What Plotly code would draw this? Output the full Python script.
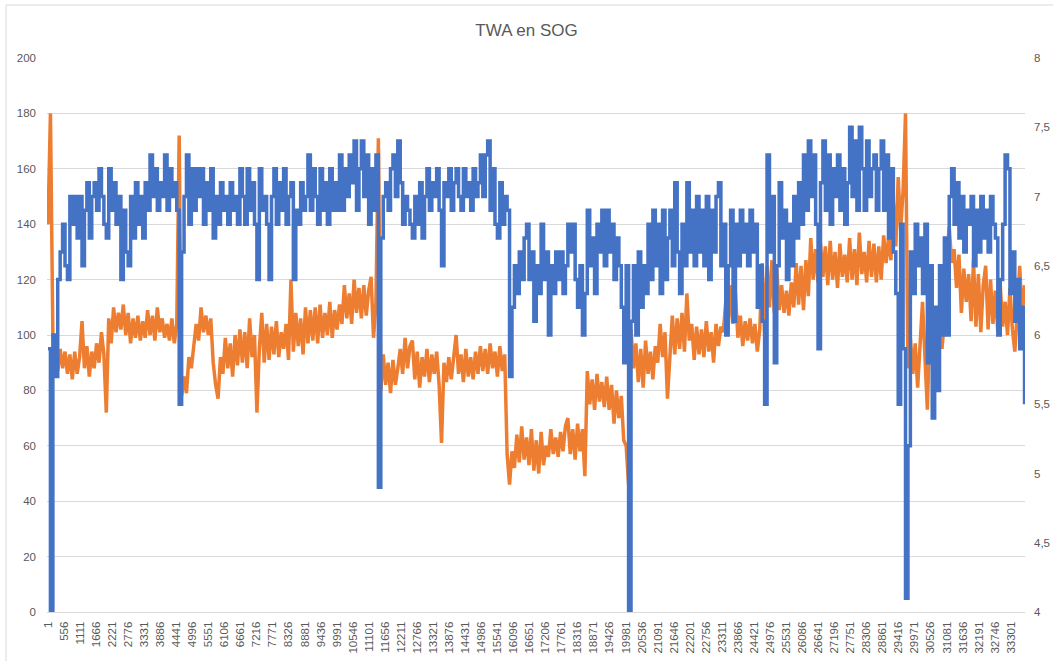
import plotly.graph_objects as go

twa = [
    95, 0, 100, 85, 120, 130, 140, 125, 120, 150,
    140, 150, 135, 150, 125, 145, 155, 135, 150, 155,
    145, 160, 150, 140, 135, 160, 145, 155, 140, 150,
    120, 145, 130, 125, 150, 135, 155, 140, 150, 135,
    155, 145, 165, 150, 160, 145, 155, 150, 165, 145,
    160, 150, 155, 145, 75, 130, 150, 165, 140, 160,
    145, 160, 150, 160, 140, 155, 145, 160, 135, 150,
    140, 155, 145, 150, 140, 155, 145, 150, 140, 160,
    150, 140, 160, 145, 155, 140, 120, 160, 145, 150,
    140, 120, 150, 160, 140, 155, 145, 160, 140, 150,
    155, 120, 145, 140, 155, 145, 150, 165, 145, 160,
    150, 140, 160, 145, 155, 140, 160, 145, 155, 145,
    165, 145, 160, 150, 165, 155, 170, 145, 160, 170,
    150, 165, 140, 160, 145, 165, 45, 135, 150, 155,
    145, 160, 165, 150, 170, 155, 140, 150, 145, 140,
    135, 150, 140, 155, 135, 150, 160, 145, 155, 150,
    160, 145, 125, 155, 150, 160, 145, 155, 160, 150,
    145, 160, 150, 155, 145, 160, 150, 155, 165, 150,
    165, 170, 145, 160, 140, 135, 155, 140, 150, 145,
    85, 110, 125, 115, 130, 120, 135, 140, 120, 130,
    105, 125, 115, 140, 120, 130, 100, 125, 115, 130,
    120, 130, 115, 125, 140, 130, 140, 120, 110, 125,
    100, 115, 145, 125, 135, 115, 140, 130, 145, 125,
    145, 130, 140, 120, 135, 125, 110, 90, 125, 0,
    105, 125, 100, 130, 110, 125, 115, 140, 120, 145,
    125, 140, 115, 145, 120, 135, 145, 125, 155, 130,
    115, 140, 125, 155, 130, 145, 125, 150, 130, 145,
    125, 150, 120, 145, 130, 150, 155, 125, 140, 100,
    125, 145, 105, 140, 125, 145, 130, 140, 125, 145,
    130, 140, 110, 125, 105, 75, 165, 130, 150, 90,
    125, 155, 135, 145, 120, 140, 125, 150, 135, 155,
    140, 165, 145, 170, 150, 165, 140, 95, 155, 170,
    145, 165, 140, 160, 150, 165, 145, 160, 140, 155,
    175, 150, 170, 145, 175, 160, 145, 170, 150, 160,
    165, 145, 160, 170, 145, 165, 135, 160, 130, 115,
    75, 140, 95, 5, 60, 130, 115, 140, 125, 135,
    115, 140, 90, 125, 70, 110, 80, 125, 100, 135,
    100, 150, 160, 140, 155, 135, 150, 130, 145, 140,
    150, 125, 145, 130, 150, 135, 145, 130, 150, 140,
    135, 100, 120, 140, 165, 160, 115, 130, 105, 120,
    95, 110, 75,
]

sog = [
    6.80, 7.60, 6.00, 5.84, 5.74, 5.90, 5.76, 5.88, 5.72, 5.86,
    5.68, 5.88, 5.72, 5.84, 6.10, 5.76, 5.92, 5.70, 5.88, 5.76,
    5.94, 5.80, 6.02, 5.86, 5.44, 6.12, 5.94, 6.20, 6.02, 6.16,
    6.04, 6.22, 6.00, 6.16, 5.94, 6.12, 5.98, 6.14, 5.96, 6.10,
    5.98, 6.18, 6.00, 6.14, 5.96, 6.20, 6.02, 6.12, 5.98, 6.08,
    5.96, 6.12, 5.94, 6.08, 7.44, 5.56, 5.70, 5.58, 5.84, 5.76,
    5.92, 6.08, 5.96, 6.20, 6.02, 6.14, 6.00, 6.12, 5.80, 5.64,
    5.54, 5.84, 5.72, 5.98, 5.76, 5.94, 5.70, 6.00, 5.78, 6.04,
    5.80, 6.02, 5.76, 6.12, 5.84, 6.00, 5.44, 5.90, 6.16, 5.80,
    6.08, 5.82, 6.06, 5.86, 6.10, 5.84, 6.02, 5.90, 6.08, 5.82,
    6.40, 5.88, 6.16, 5.92, 6.12, 5.86, 6.20, 5.94, 6.18, 5.96,
    6.20, 5.94, 6.22, 5.98, 6.16, 6.00, 6.24, 5.98, 6.18, 6.04,
    6.22, 6.08, 6.36, 6.12, 6.30, 6.08, 6.40, 6.16, 6.34, 6.12,
    6.36, 6.14, 6.32, 6.42, 5.98, 6.24, 7.42, 5.60, 5.86, 5.64,
    5.80, 5.58, 5.82, 5.64, 5.76, 5.90, 5.72, 5.98, 5.76, 5.92,
    5.96, 5.68, 5.88, 5.62, 5.84, 5.70, 5.90, 5.66, 5.86, 5.72,
    5.88, 5.64, 5.22, 5.80, 5.66, 5.84, 5.68, 5.82, 6.00, 5.72,
    5.86, 5.66, 5.90, 5.70, 5.84, 5.68, 5.88, 5.72, 5.92, 5.74,
    5.90, 5.72, 5.94, 5.76, 5.88, 5.70, 5.92, 5.74, 5.86, 5.14,
    4.92, 5.16, 5.04, 5.28, 5.08, 5.34, 5.10, 5.26, 5.06, 5.32,
    5.02, 5.24, 5.00, 5.30, 5.06, 5.20, 5.12, 5.32, 5.14, 5.26,
    5.12, 5.30, 5.16, 5.34, 5.40, 5.14, 5.32, 5.10, 5.36, 5.16,
    5.32, 4.98, 5.74, 5.50, 5.68, 5.46, 5.72, 5.52, 5.66, 5.48,
    5.70, 5.46, 5.64, 5.36, 5.60, 5.40, 5.56, 5.24, 5.20, 4.92,
    6.04, 5.76, 5.94, 5.66, 5.90, 5.62, 5.96, 5.72, 5.88, 5.68,
    5.92, 5.80, 6.08, 5.84, 6.02, 5.54, 5.90, 6.14, 5.86, 6.12,
    5.90, 6.16, 5.88, 6.30, 5.96, 6.08, 5.82, 6.06, 5.86, 6.04,
    5.84, 6.10, 5.88, 6.02, 5.80, 6.08, 5.92, 6.06, 6.02, 6.24,
    6.06, 6.36, 6.08, 6.30, 5.98, 6.14, 5.92, 6.10, 5.96, 6.12,
    5.94, 6.08, 5.88, 6.04, 6.52, 6.00, 6.50, 6.20, 6.54, 6.16,
    6.48, 6.18, 6.36, 6.16, 6.32, 6.14, 6.38, 6.20, 6.52, 6.22,
    6.50, 6.18, 6.54, 6.28, 6.70, 6.40, 6.62, 6.38, 6.66, 6.42,
    6.64, 6.36, 6.68, 6.40, 6.60, 6.34, 6.66, 6.42, 6.58, 6.38,
    6.70, 6.40, 6.62, 6.36, 6.74, 6.44, 6.60, 6.38, 6.68, 6.42,
    6.66, 6.38, 6.64, 6.40, 6.72, 6.52, 6.70, 6.54, 6.96, 6.64,
    7.14, 6.76, 7.04, 7.60, 5.76, 5.98, 5.72, 5.94, 5.62, 5.90,
    6.24, 5.84, 5.46, 6.08, 5.82, 6.16, 5.86, 6.06, 5.90, 6.10,
    6.56, 6.78, 6.52, 6.62, 6.34, 6.58, 6.16, 6.48, 6.24, 6.44,
    6.10, 6.54, 6.06, 6.44, 6.02, 6.36, 6.50, 6.04, 6.40, 6.08,
    6.32, 6.02, 6.36, 6.06, 6.24, 6.00, 6.34, 6.04, 5.88, 6.16,
    6.50, 6.12, 6.36,
]

record_step = 84
x_tick_labels = [str(1 + 555 * i) for i in range(61)]
sog_ticks = [4, 4.5, 5, 5.5, 6, 6.5, 7, 7.5, 8]
sog_tick_text = ["4", "4,5", "5", "5,5", "6", "6,5", "7", "7,5", "8"]

records = [1 + record_step * k for k in range(len(twa))]

FONT = "Liberation Sans"
GREY = "#595959"

fig = go.Figure()
fig.add_trace(go.Scatter(
    x=records, y=sog, yaxis="y", mode="lines", name="SOG",
    line=dict(color="#ED7D31", width=3.5),
))
fig.add_trace(go.Scatter(
    x=records, y=twa, yaxis="y2", mode="lines", name="TWA",
    line=dict(color="#4472C4", width=3.5, shape="hv"),
))

fig.update_layout(
    width=1053, height=661,
    margin=dict(l=47, r=28, t=58, b=49, autoexpand=False),
    paper_bgcolor="white", plot_bgcolor="white",
    showlegend=False,
    title=dict(text="TWA en SOG", x=0.5, xref="container", xanchor="center",
               y=1 - 30 / 661, yref="container", yanchor="middle",
               font=dict(family=FONT, size=17, color=GREY)),
    xaxis=dict(
        range=[-34, 33785],
        tickmode="array",
        tickvals=[int(t) for t in x_tick_labels],
        ticktext=x_tick_labels,
        tickangle=-90,
        showgrid=False, zeroline=False,
        showline=True, linecolor="#d9d9d9", linewidth=1,
        ticks="", ticklabelstandoff=4, automargin=False,
        tickfont=dict(family=FONT, size=11.5, color=GREY),
    ),
    yaxis=dict(
        side="right", range=[4, 8],
        tickmode="array", tickvals=sog_ticks, ticktext=sog_tick_text,
        showgrid=False, zeroline=False, showline=False, ticks="",
        ticklabelstandoff=8, automargin=False,
        tickfont=dict(family=FONT, size=11.5, color=GREY),
    ),
    yaxis2=dict(
        overlaying="y", side="left", range=[0, 200], dtick=20,
        showgrid=True, gridcolor="#d9d9d9", gridwidth=1,
        zeroline=False, showline=False, ticks="",
        ticklabelstandoff=10, automargin=False,
        tickfont=dict(family=FONT, size=11.5, color=GREY),
    ),
    shapes=[
        dict(type="line", xref="paper", yref="paper",
             x0=-0.0419, x1=1.03, y0=1.0957, y1=1.0957,
             line=dict(color="#d9d9d9", width=1)),
        dict(type="line", xref="paper", yref="paper",
             x0=-0.0419, x1=-0.0419, y0=-0.09, y1=1.0957,
             line=dict(color="#d9d9d9", width=1)),
    ],
)

fig.write_html(
    "out.html",
    config={"displayModeBar": False},
    post_script="document.body.style.margin='0';document.body.style.padding='0';",
)
